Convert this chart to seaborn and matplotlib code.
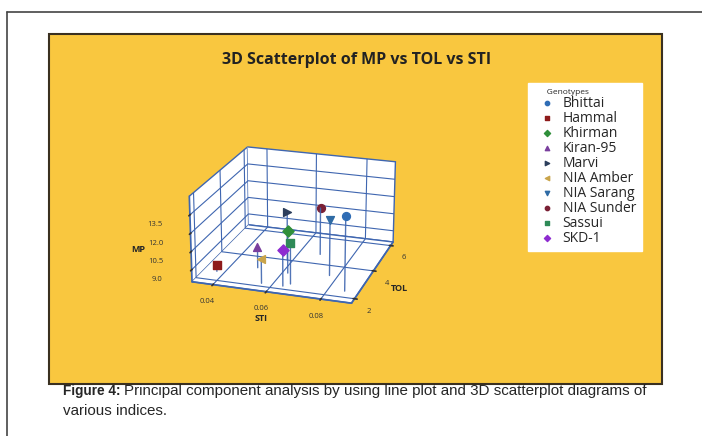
import numpy as np
import pandas as pd
import matplotlib.pyplot as plt
import seaborn as sns
from matplotlib import font_manager
from matplotlib.patches import Rectangle
from matplotlib.lines import Line2D

# ==========================================
# data
# ==========================================
genotypes = ["Bhittai", "Hammal", "Khirman", "Kiran-95", "Marvi",
             "NIA Amber", "NIA Sarang", "NIA Sunder", "Sassui", "SKD-1"]
sti = [0.086, 0.037, 0.062, 0.050, 0.058, 0.056, 0.077, 0.068, 0.066, 0.064]
tol = [2.4, 2.6, 3.1, 3.2, 4.0, 2.2, 3.3, 4.7, 2.4, 2.2]
mp = [14.1, 8.5, 11.5, 9.8, 12.1, 10.0, 12.6, 12.0, 11.4, 11.0]

markers = ["o", "s", "D", "^", ">", "<", "v", "o", "s", "D"]
colors = ["#2f6db5", "#8e1b1b", "#2f8f3a", "#7a3f9e", "#2c3e5c",
          "#c9a44a", "#2f6ba5", "#7a2035", "#2e8a57", "#8e2bd0"]

df = pd.DataFrame({"Genotype": genotypes, "STI": sti, "TOL": tol, "MP": mp})

YELLOW = "#f9c73f"
GRID = "#3f66b0"

sns.set_theme(style="white")
plt.rcParams['font.family'] = ['Open Sans', 'DejaVu Sans']

# Liberation Sans Bold (not the Narrow one) for the caption
bold_path = None
for f in font_manager.fontManager.ttflist:
    if f.name == "Liberation Sans" and f.weight in (700, "bold") and f.style == "normal":
        bold_path = f.fname
cap_bold = font_manager.FontProperties(fname=bold_path, size=9.8) if bold_path else \
    font_manager.FontProperties(family="Liberation Sans", weight="bold", size=9.8)

fig = plt.figure(figsize=(7.02, 4.36), dpi=100)
fig.patch.set_facecolor("white")

# outer page frame
fig.add_artist(Line2D([7/702, 1], [1-12/436, 1-12/436], color="#444444", lw=1.2))
fig.add_artist(Line2D([7/702, 7/702], [0, 1-12/436], color="#444444", lw=1.2))

# yellow panel
fig.add_artist(Rectangle((49/702, 1-384/436), (662-49)/702, (384-34)/436,
                         facecolor=YELLOW, edgecolor="#3a3020", lw=1.5,
                         transform=fig.transFigure, zorder=0))

fig.text(357/702, 1-60/436, "3D Scatterplot of MP vs TOL vs STI",
         ha="center", va="center", fontsize=11.5, fontweight="bold", color="#222222")

ax = fig.add_axes([0.205, 0.215, 0.425, 0.545], projection="3d")
ax.set_facecolor(YELLOW)
ax.patch.set_alpha(0)

zfloor = 8.0
for i, row in df.iterrows():
    ax.plot([row.STI, row.STI], [row.TOL, row.TOL], [zfloor, row.MP],
            color=GRID, lw=1.0, alpha=0.9)
    ax.scatter(row.STI, row.TOL, row.MP, marker=markers[i], color=colors[i],
               s=32, depthshade=False, label=row.Genotype, zorder=5)

ax.set_xlim(0.032, 0.091)
ax.set_ylim(1.7, 6.3)
ax.set_zlim(zfloor, 15.0)
ax.set_xticks([0.04, 0.06, 0.08])
ax.set_yticks([2, 4, 6])
ax.set_zticks([9.0, 10.5, 12.0, 13.5])
ax.set_xticklabels(["0.04", "0.06", "0.08"])
ax.set_zticklabels(["9.0", "10.5", "12.0", "13.5"])
ax.tick_params(labelsize=5.5, colors="#333333", pad=0)
ax.tick_params(axis="z", pad=6)

ax.set_xlabel("STI", fontsize=6.5, fontweight="bold", labelpad=-6)
ax.set_ylabel("TOL", fontsize=6.5, fontweight="bold", labelpad=-6)
ax.set_zlabel("MP", fontsize=6.5, fontweight="bold", labelpad=0)

for axis in (ax.xaxis, ax.yaxis, ax.zaxis):
    axis.set_pane_color((1, 1, 1, 1))
    axis.pane.set_edgecolor(GRID)
    axis._axinfo["grid"]["color"] = GRID
    axis._axinfo["grid"]["linewidth"] = 0.8
    axis.line.set_color(GRID)

ax.zaxis.set_ticks_position("lower")
ax.zaxis.set_label_position("lower")

ax.grid(True)
ax.set_box_aspect((1.0, 1.0, 0.55))
ax.view_init(elev=21, azim=-72)

leg = fig.legend(loc="upper left", bbox_to_anchor=(521/702, 1-76/436),
                 title="      Genotypes", fontsize=10, title_fontsize=6,
                 frameon=True, fancybox=False, edgecolor="white",
                 facecolor="white", framealpha=1, handletextpad=0.1,
                 labelspacing=0.0, borderpad=0.4, markerscale=0.55,
                 alignment="left")

cap_y1 = 1 - 391/436
cap_y2 = 1 - 411/436
t1 = fig.text(63/702, cap_y1, "Figure 4:", fontproperties=cap_bold, va="center")
fig.canvas.draw()
bb = t1.get_window_extent()
fig.text((bb.x1 + 4)/702, cap_y1,
         "Principal component analysis by using line plot and 3D scatterplot diagrams of",
         fontsize=10.9, family="Liberation Sans", va="center")
fig.text(63/702, cap_y2, "various indices.", fontsize=10.9,
         family="Liberation Sans", va="center")

plt.savefig("out.png", dpi=100)
